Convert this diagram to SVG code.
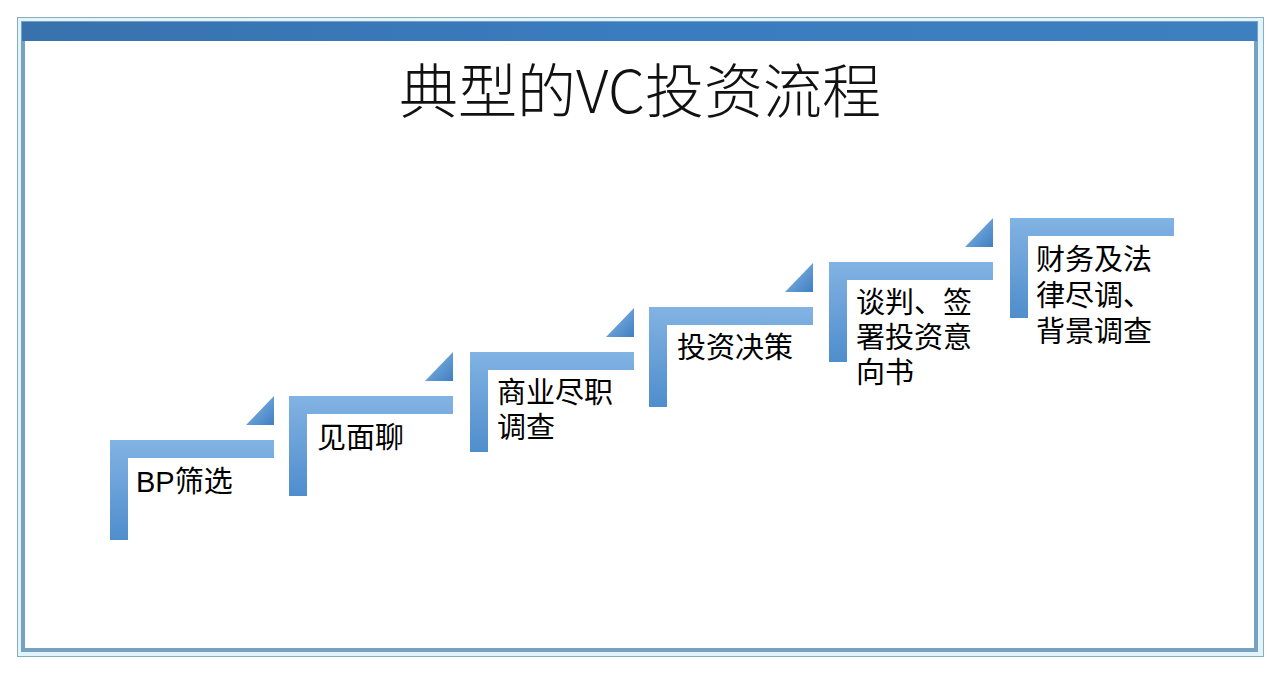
<svg xmlns="http://www.w3.org/2000/svg" width="1280" height="674" viewBox="0 0 1280 674">
  <defs>
    <linearGradient id="stepGrad" x1="0" y1="0" x2="0" y2="1">
      <stop offset="0" stop-color="#82b3e3"/>
      <stop offset="1" stop-color="#4f8dcc"/>
    </linearGradient>
    <linearGradient id="triGrad" x1="0" y1="0" x2="1" y2="1">
      <stop offset="0" stop-color="#8dbbe8"/>
      <stop offset="1" stop-color="#3f7fc2"/>
    </linearGradient>
    <linearGradient id="barGrad" x1="0" y1="0" x2="1" y2="0">
      <stop offset="0" stop-color="#3872ad"/>
      <stop offset="0.5" stop-color="#3a7cc0"/>
      <stop offset="1" stop-color="#3e7fbf"/>
    </linearGradient>
    <path id="stepL" d="M0,0 H164 V18 H18 V100 H0 Z" fill="url(#stepGrad)"/>
    <path id="stepTri" d="M136,-15 H164 V-44 Z" fill="url(#triGrad)"/>
  </defs>
  <style>
    .lbl { font-family: "Liberation Sans", "Noto Sans CJK SC", sans-serif; font-size: 29px; fill: #000; }
    .title { font-family: "Noto Sans CJK SC", "Noto Sans", sans-serif; font-size: 59px; fill: #111; font-weight: 300; }
  </style>
  <rect width="1280" height="674" fill="#ffffff"/>
  <g id="frame">
    <rect x="17.5" y="17.5" width="1246" height="639" fill="#e2f4fa" stroke="#86aebf" stroke-width="1"/>
    <rect x="23" y="23" width="1233" height="627" fill="#ffffff" stroke="#76a2c2" stroke-width="4"/>
    <rect x="22" y="22" width="1235" height="19" fill="url(#barGrad)"/>
  </g>
  <text class="title" x="640" y="113" text-anchor="middle">典型的VC投资流程</text>
  <g id="connectors"/>
  <g id="step1">
    <use href="#stepL" x="110" y="440"/>
    <use href="#stepTri" x="110" y="440"/>
    <text class="lbl" x="136" y="492">BP筛选</text>
  </g>
  <g id="step2">
    <use href="#stepL" x="289" y="396"/>
    <use href="#stepTri" x="289" y="396"/>
    <text class="lbl" x="317" y="448">见面聊</text>
  </g>
  <g id="step3">
    <use href="#stepL" x="470" y="352"/>
    <use href="#stepTri" x="470" y="352"/>
    <text class="lbl" x="497" y="403">商业尽职<tspan x="497" dy="35">调查</tspan></text>
  </g>
  <g id="step4">
    <use href="#stepL" x="649" y="307"/>
    <use href="#stepTri" x="649" y="307"/>
    <text class="lbl" x="677" y="358">投资决策</text>
  </g>
  <g id="step5">
    <use href="#stepL" x="829" y="262"/>
    <use href="#stepTri" x="829" y="262"/>
    <text class="lbl" x="856" y="313">谈判、签<tspan x="856" dy="35">署投资意</tspan><tspan x="856" dy="35">向书</tspan></text>
  </g>
  <g id="step6">
    <use href="#stepL" x="1010" y="218"/>
    <text class="lbl" x="1036" y="270">财务及法<tspan x="1036" dy="36">律尽调、</tspan><tspan x="1036" dy="36">背景调查</tspan></text>
  </g>
</svg>
